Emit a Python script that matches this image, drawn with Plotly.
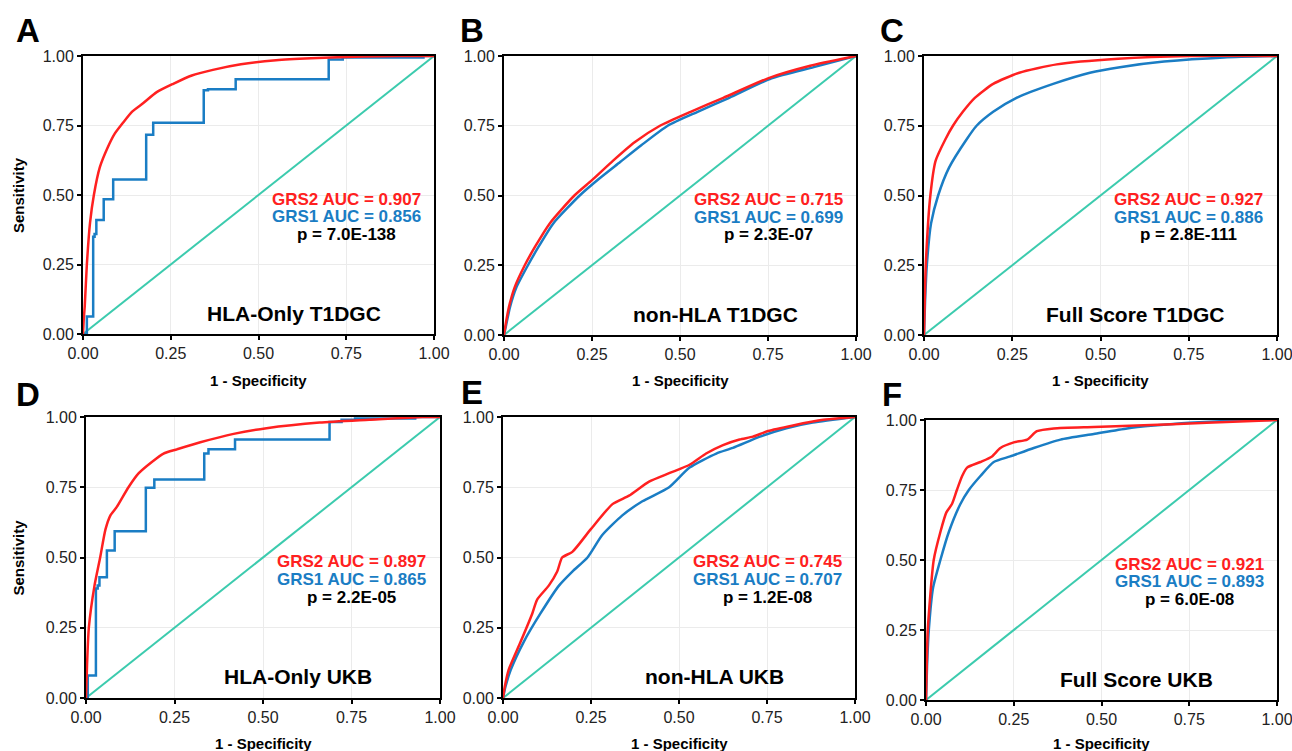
import plotly.graph_objects as go

# ---------------- data ----------------
# Panel A: HLA-Only T1DGC
a_grs2_fpr = [0, 0.002, 0.005, 0.011, 0.02, 0.031, 0.048, 0.07, 0.09, 0.114, 0.14, 0.171, 0.21, 0.257, 0.31, 0.37, 0.45, 0.55, 0.65, 0.8, 0.9, 1.0]
a_grs2_tpr = [0, 0.05, 0.1, 0.25, 0.4, 0.5, 0.6, 0.67, 0.72, 0.76, 0.8, 0.83, 0.87, 0.9, 0.93, 0.95, 0.97, 0.985, 0.992, 0.998, 1.0, 1.0]
a_grs1_fpr = [0, 0.011, 0.029, 0.033, 0.038, 0.059, 0.086, 0.18, 0.20, 0.344, 0.356, 0.435, 0.70, 0.74, 0.97, 1.0]
a_grs1_tpr = [0, 0.063, 0.35, 0.36, 0.41, 0.485, 0.556, 0.717, 0.76, 0.877, 0.88, 0.916, 0.987, 0.995, 1.0, 1.0]

# Panel B: non-HLA T1DGC
b_grs2_fpr = [0, 0.005, 0.014, 0.03, 0.059, 0.09, 0.13, 0.20, 0.25, 0.31, 0.37, 0.443, 0.53, 0.623, 0.75, 0.87, 1.0]
b_grs2_tpr = [0, 0.04, 0.1, 0.17, 0.25, 0.32, 0.4, 0.5, 0.555, 0.625, 0.69, 0.75, 0.8, 0.85, 0.92, 0.965, 1.0]
b_grs1_fpr = [0, 0.006, 0.017, 0.035, 0.068, 0.10, 0.14, 0.215, 0.27, 0.33, 0.39, 0.465, 0.55, 0.64, 0.76, 0.88, 1.0]
b_grs1_tpr = [0, 0.035, 0.1, 0.17, 0.25, 0.32, 0.4, 0.5, 0.56, 0.62, 0.68, 0.75, 0.8, 0.85, 0.92, 0.96, 1.0]

# Panel C: Full Score T1DGC
c_grs2_fpr = [0, 0.002, 0.005, 0.018, 0.033, 0.06, 0.082, 0.11, 0.144, 0.196, 0.27, 0.376, 0.55, 0.75, 1.0]
c_grs2_tpr = [0, 0.12, 0.25, 0.5, 0.625, 0.7, 0.75, 0.8, 0.85, 0.9, 0.94, 0.97, 0.99, 1.0, 1.0]
c_grs1_fpr = [0, 0.003, 0.008, 0.02, 0.04, 0.071, 0.12, 0.149, 0.196, 0.262, 0.366, 0.47, 0.555, 0.68, 0.85, 1.0]
c_grs1_tpr = [0, 0.12, 0.25, 0.4, 0.5, 0.6, 0.7, 0.75, 0.8, 0.85, 0.9, 0.94, 0.96, 0.98, 0.995, 1.0]

# Panel D: HLA-Only UKB
d_grs2_fpr = [0, 0.003, 0.008, 0.024, 0.04, 0.055, 0.069, 0.087, 0.12, 0.149, 0.186, 0.219, 0.257, 0.323, 0.417, 0.51, 0.66, 0.8, 0.95, 1.0]
d_grs2_tpr = [0, 0.12, 0.25, 0.4, 0.5, 0.6, 0.65, 0.68, 0.75, 0.8, 0.84, 0.87, 0.885, 0.91, 0.94, 0.96, 0.98, 0.99, 1.0, 1.0]
d_grs1_fpr = [0, 0.005, 0.028, 0.033, 0.038, 0.059, 0.081, 0.169, 0.193, 0.334, 0.346, 0.421, 0.688, 0.722, 0.76, 0.93, 1.0]
d_grs1_tpr = [0, 0.08, 0.39, 0.40, 0.43, 0.525, 0.593, 0.748, 0.778, 0.87, 0.885, 0.92, 0.982, 0.99, 0.995, 1.0, 1.0]

# Panel E: non-HLA UKB
e_grs2_fpr = [0, 0.005, 0.016, 0.05, 0.083, 0.097, 0.13, 0.154, 0.168, 0.197, 0.249, 0.311, 0.358, 0.415, 0.472, 0.53, 0.577, 0.625, 0.672, 0.71, 0.753, 0.824, 0.91, 1.0]
e_grs2_tpr = [0, 0.04, 0.1, 0.2, 0.3, 0.35, 0.4, 0.45, 0.5, 0.52, 0.6, 0.69, 0.72, 0.77, 0.8, 0.83, 0.87, 0.9, 0.92, 0.93, 0.95, 0.97, 0.99, 1.0]
e_grs1_fpr = [0, 0.007, 0.022, 0.059, 0.106, 0.159, 0.197, 0.24, 0.282, 0.339, 0.396, 0.472, 0.53, 0.606, 0.653, 0.73, 0.805, 0.88, 1.0]
e_grs1_tpr = [0, 0.04, 0.1, 0.2, 0.3, 0.4, 0.45, 0.5, 0.58, 0.65, 0.7, 0.75, 0.82, 0.87, 0.89, 0.93, 0.96, 0.98, 1.0]

# Panel F: Full Score UKB
f_grs2_fpr = [0, 0.002, 0.005, 0.022, 0.041, 0.058, 0.074, 0.088, 0.103, 0.117, 0.155, 0.188, 0.212, 0.25, 0.288, 0.316, 0.364, 0.478, 0.6, 0.8, 1.0]
f_grs2_tpr = [0, 0.12, 0.25, 0.5, 0.6, 0.67, 0.7, 0.75, 0.8, 0.83, 0.85, 0.87, 0.9, 0.92, 0.93, 0.96, 0.97, 0.975, 0.98, 0.99, 1.0]
f_grs1_fpr = [0, 0.003, 0.008, 0.02, 0.041, 0.065, 0.098, 0.122, 0.155, 0.193, 0.24, 0.307, 0.383, 0.478, 0.573, 0.649, 0.75, 0.95, 1.0]
f_grs1_tpr = [0, 0.12, 0.25, 0.4, 0.5, 0.6, 0.7, 0.75, 0.8, 0.85, 0.87, 0.9, 0.93, 0.95, 0.97, 0.98, 0.99, 1.0, 1.0]

panel_letters = ["A", "B", "C", "D", "E", "F"]
panel_titles = ["HLA-Only T1DGC", "non-HLA T1DGC", "Full Score T1DGC",
                "HLA-Only UKB", "non-HLA UKB", "Full Score UKB"]
grs2_auc = ["0.907", "0.715", "0.927", "0.897", "0.745", "0.921"]
grs1_auc = ["0.856", "0.699", "0.886", "0.865", "0.707", "0.893"]
p_values = ["7.0E-138", "2.3E-07", "2.8E-111", "2.2E-05", "1.2E-08", "6.0E-08"]

tick_vals = [0, 0.25, 0.5, 0.75, 1.0]
tick_text = ["0.00", "0.25", "0.50", "0.75", "1.00"]
diag = [0, 1]

grs2_series = [(a_grs2_fpr, a_grs2_tpr), (b_grs2_fpr, b_grs2_tpr), (c_grs2_fpr, c_grs2_tpr),
               (d_grs2_fpr, d_grs2_tpr), (e_grs2_fpr, e_grs2_tpr), (f_grs2_fpr, f_grs2_tpr)]
grs1_series = [(a_grs1_fpr, a_grs1_tpr), (b_grs1_fpr, b_grs1_tpr), (c_grs1_fpr, c_grs1_tpr),
               (d_grs1_fpr, d_grs1_tpr), (e_grs1_fpr, e_grs1_tpr), (f_grs1_fpr, f_grs1_tpr)]
grs1_step = [True, False, False, True, False, False]

# ---------------- layout ----------------
W, H = 1292, 751
# pixel boxes of plot areas: left, right, top, bottom
boxes = [(83, 434, 56, 334), (504, 856, 56, 335), (924, 1277, 56, 335),
         (86, 440, 417, 698), (503, 855, 417, 698), (926, 1277, 420, 700)]
letter_pos = [(28, 31), (472, 31), (892, 31), (28, 394), (472, 393), (892, 394)]
xtitle_y = [380, 380, 380, 743, 743, 743]

RED = "#FF2020"
BLUE = "#1A7DC4"
TEAL = "#3CCBAE"
FONT = "Liberation Sans, Arial, sans-serif"

fig = go.Figure()
layout = dict(width=W, height=H, margin=dict(l=0, r=0, t=0, b=0, autoexpand=False),
              paper_bgcolor="white", plot_bgcolor="white", showlegend=False,
              template="none",
              font=dict(family=FONT, color="black"))
annotations = []

for i in range(6):
    n = "" if i == 0 else str(i + 1)
    xa, ya = "x" + n, "y" + n
    l, r, t, b = boxes[i]
    axis_common = dict(range=[0, 1], tickvals=tick_vals, ticktext=tick_text,
                       showline=True, linecolor="black", linewidth=2, mirror=True,
                       ticks="outside", ticklen=4, tickwidth=1.5, tickcolor="black",
                       showgrid=True, gridcolor="#EBEBEB", gridwidth=1, zeroline=False,
                       automargin=False, ticklabeloverflow="allow",
                       tickfont=dict(family=FONT, size=16, color="#222"))
    layout["xaxis" + n] = dict(axis_common, domain=[l / W, r / W], anchor=ya)
    layout["yaxis" + n] = dict(axis_common, domain=[1 - b / H, 1 - t / H], anchor=xa)

    fig.add_trace(go.Scatter(x=diag, y=diag, mode="lines", xaxis=xa, yaxis=ya,
                             line=dict(color=TEAL, width=2)))
    gx, gy = grs1_series[i]
    if grs1_step[i]:
        bline = dict(color=BLUE, width=2.5, shape="hv")
    else:
        bline = dict(color=BLUE, width=2.5, shape="spline", smoothing=0.6)
    fig.add_trace(go.Scatter(x=gx, y=gy, mode="lines", xaxis=xa, yaxis=ya, line=bline))
    rx, ry = grs2_series[i]
    fig.add_trace(go.Scatter(x=rx, y=ry, mode="lines", xaxis=xa, yaxis=ya,
                             line=dict(color=RED, width=2.5, shape="spline", smoothing=0.6)))

    annotations.append(dict(x=0.75, y=0.485, xref=xa, yref=ya, showarrow=False,
                            xanchor="center", yanchor="middle",
                            text="<b>GRS2 AUC = %s</b>" % grs2_auc[i],
                            font=dict(size=17, color=RED, family=FONT)))
    annotations.append(dict(x=0.75, y=0.422, xref=xa, yref=ya, showarrow=False,
                            xanchor="center", yanchor="middle",
                            text="<b>GRS1 AUC = %s</b>" % grs1_auc[i],
                            font=dict(size=17, color=BLUE, family=FONT)))
    annotations.append(dict(x=0.75, y=0.359, xref=xa, yref=ya, showarrow=False,
                            xanchor="center", yanchor="middle",
                            text="<b>p = %s</b>" % p_values[i],
                            font=dict(size=17, color="black", family=FONT)))
    annotations.append(dict(x=0.60, y=0.075, xref=xa, yref=ya, showarrow=False,
                            xanchor="center", yanchor="middle",
                            text="<b>%s</b>" % panel_titles[i],
                            font=dict(size=21, color="black", family=FONT)))
    # panel letter
    lx, ly = letter_pos[i]
    annotations.append(dict(x=lx / W, y=1 - ly / H, xref="paper", yref="paper", showarrow=False,
                            xanchor="center", yanchor="middle",
                            text="<b>%s</b>" % panel_letters[i],
                            font=dict(size=33, color="black", family=FONT)))
    # x-axis title
    annotations.append(dict(x=(l + r) / 2 / W, y=1 - xtitle_y[i] / H, xref="paper", yref="paper",
                            xanchor="center", yanchor="middle",
                            showarrow=False, text="<b>1 - Specificity</b>",
                            font=dict(size=15, color="black", family=FONT)))
    # y-axis title on left column
    if i in (0, 3):
        annotations.append(dict(x=18 / W, y=1 - (t + b) / 2 / H, xref="paper", yref="paper",
                                xanchor="center", yanchor="middle",
                                showarrow=False, text="<b>Sensitivity</b>", textangle=-90,
                                font=dict(size=15, color="black", family=FONT)))

layout["annotations"] = annotations
fig.update_layout(**layout)
fig.write_html("out.html")
